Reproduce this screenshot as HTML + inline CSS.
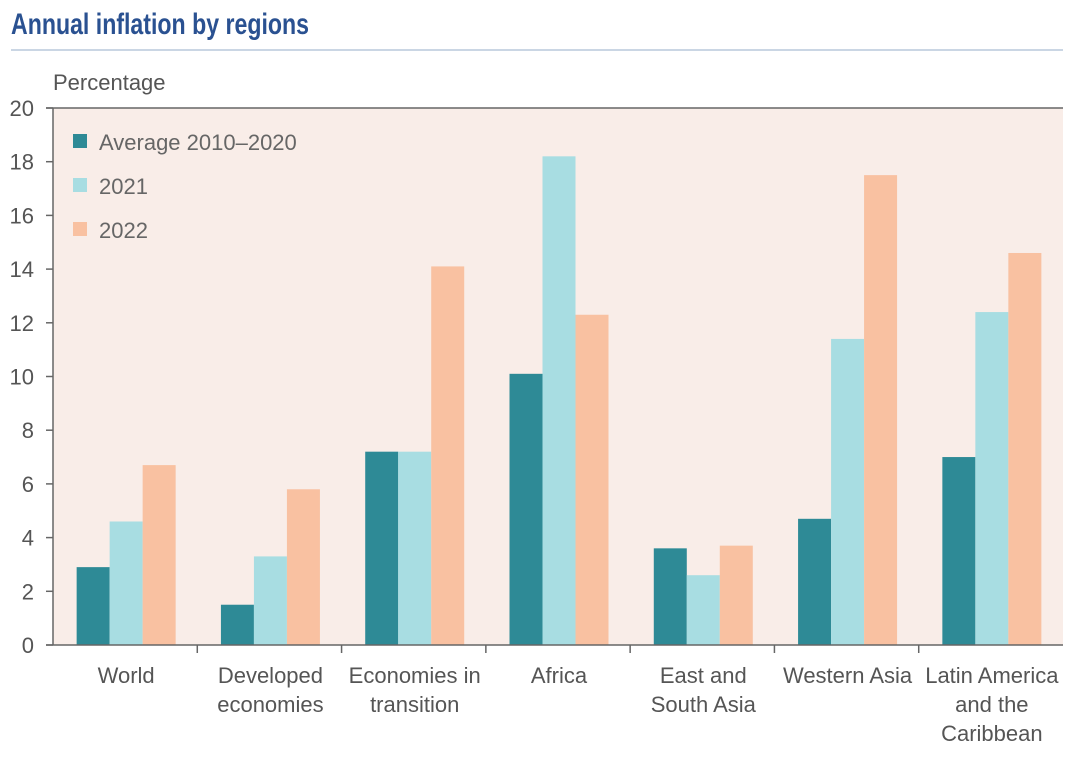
<!DOCTYPE html>
<html><head><meta charset="utf-8"><style>
body{margin:0;background:#fff;width:1080px;height:757px;overflow:hidden;font-family:"Liberation Sans Narrow","Liberation Sans",sans-serif;}
svg text{font-family:"Liberation Sans Narrow","Liberation Sans",sans-serif;}
</style></head><body>
<svg id="chart" width="1080" height="757" xmlns="http://www.w3.org/2000/svg">
<text x="11" y="34" font-size="30" font-weight="bold" fill="#2a5191" textLength="298" lengthAdjust="spacingAndGlyphs">Annual inflation by regions</text>
<line x1="11" y1="50" x2="1063" y2="50" stroke="#b9c8dc" stroke-width="1.5"/>
<text x="53" y="90" font-size="22" fill="#555">Percentage</text>
<rect x="53" y="108" width="1010" height="537" fill="#f9ede8"/>
<line x1="46" y1="108" x2="1063" y2="108" stroke="#666" stroke-width="1.5"/>
<g id="bars"></g>
<g id="axes"></g>
<g>
<rect x="73" y="134" width="14" height="14" fill="#2e8a96"/>
<text x="99" y="150" font-size="22" fill="#666">Average 2010–2020</text>
<rect x="73" y="178" width="14" height="14" fill="#a8dde2"/>
<text x="99" y="194" font-size="22" fill="#666">2021</text>
<rect x="73" y="222" width="14" height="14" fill="#f9c1a1"/>
<text x="99" y="238" font-size="22" fill="#666">2022</text>
</g>
</svg>
<script>
const categories=[["World"],["Developed","economies"],["Economies in","transition"],["Africa"],["East and","South Asia"],["Western Asia"],["Latin America","and the","Caribbean"]];
const avg=[2.9,1.5,7.2,10.1,3.6,4.7,7.0];
const y2021=[4.6,3.3,7.2,18.2,2.6,11.4,12.4];
const y2022=[6.7,5.8,14.1,12.3,3.7,17.5,14.6];
const yTicks=[0,2,4,6,8,10,12,14,16,18,20];
const NS="http://www.w3.org/2000/svg";
const X0=53,X1=1063,Y0=645,Y1=108,YMAX=20;
const gw=(X1-X0)/categories.length;
const yS=v=>Y0-(v/YMAX)*(Y0-Y1);
const bars=document.getElementById('bars'),axes=document.getElementById('axes');
function mk(tag,attrs,parent){const e=document.createElementNS(NS,tag);for(const k in attrs)e.setAttribute(k,attrs[k]);parent.appendChild(e);return e;}
const series=[[avg,"#2e8a96","avg"],[y2021,"#a8dde2","2021"],[y2022,"#f9c1a1","2022"]];
const bw=33;
categories.forEach((c,i)=>{
  const cx=X0+gw*(i+0.5)+1;
  series.forEach((s,j)=>{
    const v=s[0][i];
    const r=mk('rect',{x:cx-1.5*bw+j*bw,y:yS(v),width:bw,height:Y0-yS(v),fill:s[1]},bars);
    
    
  });
  c.forEach((ln,k)=>{
    const t=mk('text',{x:cx,y:683+k*29,'font-size':22,fill:'#555','text-anchor':'middle'},axes);
    t.textContent=ln;
    
    
  });
  if(i>0){const l=mk('line',{x1:X0+gw*i,x2:X0+gw*i,y1:Y0,y2:Y0+8,stroke:'#666','stroke-width':1.5},axes);
    
    }
});
yTicks.forEach(v=>{
  const l=mk('line',{x1:46,x2:X0,y1:yS(v),y2:yS(v),stroke:'#666','stroke-width':1.5},axes);
  
  
  const t=mk('text',{x:34,y:yS(v)+8,'font-size':22,fill:'#555','text-anchor':'end'},axes);
  t.textContent=v;
  
  
});
const ya=mk('line',{x1:X0,x2:X0,y1:Y1,y2:Y0,stroke:'#666','stroke-width':1.5},axes);


const xa=mk('line',{x1:46,x2:X1,y1:Y0,y2:Y0,stroke:'#666','stroke-width':1.5},axes);


</script>
</body></html>
